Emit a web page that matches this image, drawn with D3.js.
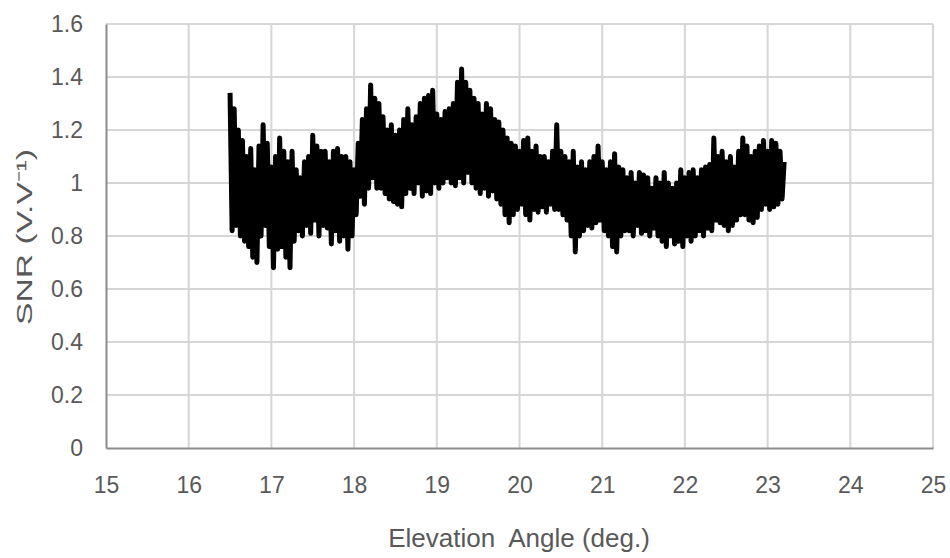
<!DOCTYPE html>
<html>
<head>
<meta charset="utf-8">
<script src="https://cdn.jsdelivr.net/npm/d3@7"></script>
<style>
  html, body { margin: 0; padding: 0; background: #fff; }
  svg { display: block; }
  text { font-family: "Liberation Sans", Arial, sans-serif; fill: #595959; }
</style>
</head>
<body>
<svg id="chart" width="950" height="558"></svg>
<script>
// ---- data ----
const xTicks = [15, 16, 17, 18, 19, 20, 21, 22, 23, 24, 25];
const yTicks = [0, 0.2, 0.4, 0.6, 0.8, 1, 1.2, 1.4, 1.6];
const yTickLabels = ["0", "0.2", "0.4", "0.6", "0.8", "1", "1.2", "1.4", "1.6"];
const xTitle = "Elevation  Angle (deg.)";
const yTitle = "SNR (V.V\u207B\u00B9)";
// elevation samples: start and spacing (deg)
const elevStart = 16.5;
const elevStep = 0.025;
// SNR values, one per sample
const snr = [
  1.34, 0.82, 1.28, 0.84, 1.20, 0.80, 1.16, 0.78,
  1.10, 0.76, 1.13, 0.72, 1.05, 0.70, 1.14, 0.80,
  1.22, 0.84, 1.15, 0.76, 1.06, 0.68, 1.10, 0.75,
  1.17, 0.76, 1.12, 0.72, 1.08, 0.68, 1.12, 0.78,
  1.05, 0.82, 1.02, 0.80, 1.08, 0.84, 1.10, 0.81,
  1.18, 0.86, 1.14, 0.80, 1.12, 0.84, 1.12, 0.83,
  1.08, 0.77, 1.12, 0.82, 1.13, 0.78, 1.10, 0.80,
  1.10, 0.75, 1.08, 0.80, 1.05, 0.88, 1.15, 0.95,
  1.24, 0.92, 1.28, 0.98, 1.37, 1.02, 1.32, 0.98,
  1.30, 0.98, 1.25, 0.96, 1.20, 0.94, 1.22, 0.93,
  1.18, 0.92, 1.20, 0.91, 1.24, 0.96, 1.28, 0.98,
  1.22, 0.96, 1.25, 1.00, 1.30, 0.95, 1.32, 0.97,
  1.33, 0.96, 1.35, 1.00, 1.26, 0.98, 1.24, 1.00,
  1.27, 1.02, 1.28, 1.00, 1.30, 0.99, 1.38, 1.02,
  1.43, 1.00, 1.38, 1.04, 1.35, 1.00, 1.32, 0.98,
  1.30, 0.96, 1.26, 0.98, 1.30, 0.95, 1.28, 0.97,
  1.24, 0.94, 1.23, 0.92, 1.20, 0.88, 1.17, 0.85,
  1.15, 0.88, 1.14, 0.90, 1.12, 0.92, 1.16, 0.88,
  1.17, 0.86, 1.12, 0.90, 1.14, 0.89, 1.10, 0.91,
  1.10, 0.89, 1.08, 0.92, 1.12, 0.90, 1.22, 0.90,
  1.12, 0.88, 1.10, 0.86, 1.08, 0.80, 1.12, 0.74,
  1.06, 0.80, 1.08, 0.82, 1.05, 0.84, 1.08, 0.83,
  1.10, 0.85, 1.14, 0.86, 1.08, 0.82, 1.05, 0.80,
  1.08, 0.76, 1.11, 0.74, 1.06, 0.80, 1.05, 0.82,
  1.02, 0.82, 1.04, 0.80, 1.00, 0.84, 1.04, 0.81,
  1.03, 0.82, 1.02, 0.80, 0.98, 0.83, 1.02, 0.80,
  1.00, 0.78, 1.04, 0.76, 1.00, 0.80, 0.98, 0.77,
  1.00, 0.78, 1.05, 0.76, 1.02, 0.80, 1.04, 0.78,
  1.05, 0.80, 1.02, 0.82, 1.05, 0.80, 1.06, 0.83,
  1.07, 0.82, 1.17, 0.86, 1.10, 0.85, 1.12, 0.84,
  1.08, 0.82, 1.10, 0.84, 1.06, 0.86, 1.12, 0.88,
  1.17, 0.88, 1.14, 0.86, 1.10, 0.85, 1.12, 0.87,
  1.14, 0.90, 1.16, 0.92, 1.12, 0.90, 1.16, 0.91,
  1.15, 0.92, 1.12, 0.94, 1.08
];

// ---- layout ----
const svg = d3.select("#chart");
const margin = { left: 106, right: 17, top: 24, bottom: 110 };
const W = 950, H = 558;
const x = d3.scaleLinear().domain([15, 25]).range([margin.left, W - margin.right]);
const y = d3.scaleLinear().domain([0, 1.6]).range([H - margin.bottom, margin.top]);
const FONT = "'Liberation Sans', Arial, sans-serif";

// gridlines
svg.append("g").selectAll("line").data(yTicks.filter(d => d > 0)).join("line")
  .attr("x1", x(15)).attr("x2", x(25))
  .attr("y1", d => y(d)).attr("y2", d => y(d))
  .attr("stroke", "#d6d6d6").attr("stroke-width", 2);
svg.append("g").selectAll("line").data(xTicks.filter(d => d > 15)).join("line")
  .attr("x1", d => x(d)).attr("x2", d => x(d))
  .attr("y1", y(0)).attr("y2", y(1.6))
  .attr("stroke", "#d6d6d6").attr("stroke-width", 2);

// axes
const xAxis = d3.axisBottom(x).tickValues(xTicks).tickSize(0).tickPadding(29)
  .tickFormat(d3.format("d"));
const gx = svg.append("g").attr("transform", `translate(0,${y(0)})`).call(xAxis);
gx.select(".domain").attr("stroke", "#8c8c8c").attr("stroke-width", 2);
gx.selectAll("text").style("font-size", "23px").attr("fill", "#595959")
  .style("font-family", FONT);

const yAxis = d3.axisLeft(y).tickValues(yTicks).tickSize(0).tickPadding(23)
  .tickFormat((d, i) => yTickLabels[i]);
const gy = svg.append("g").attr("transform", `translate(${x(15)},0)`).call(yAxis);
gy.select(".domain").attr("stroke", "#8c8c8c").attr("stroke-width", 2);
gy.selectAll("text").style("font-size", "23px").attr("fill", "#595959")
  .style("font-family", FONT);

// data line
const pts = snr.map((v, i) => [elevStart + i * elevStep, v]);
svg.append("path").datum(pts)
  .attr("fill", "none").attr("stroke", "#000").attr("stroke-width", 5)
  .attr("stroke-linejoin", "round")
  .attr("d", d3.line().x(d => x(d[0])).y(d => y(d[1])));

// titles
svg.append("text").attr("x", 519).attr("y", 547).attr("text-anchor", "middle")
  .attr("xml:space", "preserve").style("white-space", "pre")
  .style("font-size", "26px").text(xTitle);
svg.append("text").attr("transform", "translate(32,237) rotate(-90)")
  .attr("text-anchor", "middle").style("font-size", "22px")
  .attr("textLength", 176).attr("lengthAdjust", "spacingAndGlyphs").text(yTitle);
</script>
</body>
</html>
